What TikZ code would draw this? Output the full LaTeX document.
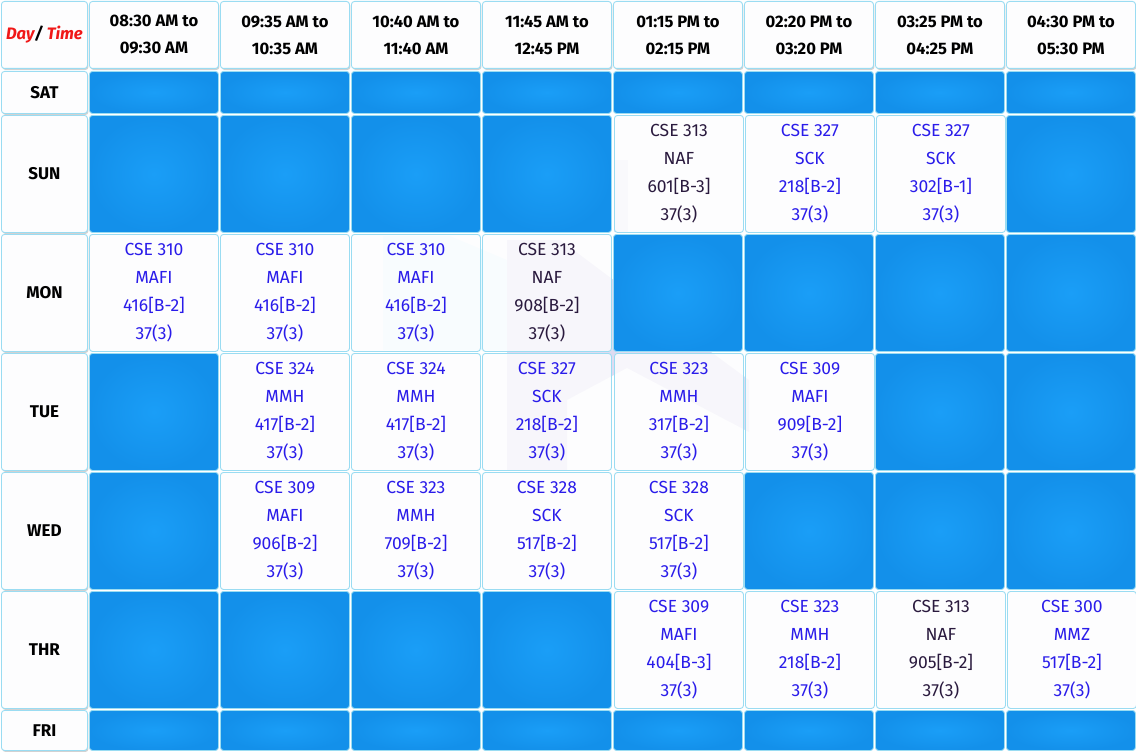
\documentclass[tikz,border=0pt]{standalone}
\usepackage{fontspec}
\setmainfont{Fira Sans}
\usetikzlibrary{shadows}
\definecolor{cellblueA}{HTML}{1A9EF7}
\definecolor{cellblueB}{HTML}{1390EA}
\definecolor{cellline}{HTML}{9ADCF2}
\definecolor{cellwhite}{HTML}{FDFDFE}
\definecolor{tblue}{HTML}{2A1CEA}
\definecolor{tdark}{HTML}{2A1A3E}
\definecolor{dayred}{HTML}{F01818}
\definecolor{wmlav}{HTML}{B8B0E0}
\definecolor{wmcyan}{HTML}{B8F0FF}
\tikzset{
  base/.style={rounded corners=3pt, draw=cellline, line width=0.9pt, inner sep=0pt, anchor=north west},
  bluecell/.style={base, inner color=cellblueA, outer color=cellblueB, minimum width=129pt},
  course/.style={base, fill=cellwhite, fill opacity=0.82, text opacity=1, minimum width=129pt,
     minimum height=117pt, align=center, font=\fontsize{17.5}{28}\selectfont},
  cb/.style={course, text=tblue},
  cd/.style={course, text=tdark},
  headcell/.style={base, fill=cellwhite, minimum height=67pt,
     drop shadow={shadow xshift=1pt, shadow yshift=-1.5pt, fill=black!35, opacity=0.5},
     font=\bfseries\fontsize{16.6}{27}\selectfont, align=center},
  daycell/.style={base, fill=cellwhite, minimum width=86pt,
     drop shadow={shadow xshift=1pt, shadow yshift=-1.5pt, fill=black!35, opacity=0.5},
     font=\bfseries\fontsize{17}{20}\selectfont}
}
\begin{document}
\begin{tikzpicture}[x=1pt, y=-1pt]
\useasboundingbox (0,0) rectangle (1136,752);
\fill[white] (0,0) rectangle (1136,752);
% faint watermark behind the cells
\fill[wmcyan, opacity=0.35] (383,236) -- (450,236) -- (507,260) -- (507,350) -- (383,350) -- cycle;
\fill[wmlav, opacity=0.45] (507,240) -- (560,240) -- (627,290) -- (749,380) -- (749,432)
   -- (627,368) -- (567,400) -- (567,470) -- (507,470) -- cycle;
\fill[wmlav, opacity=0.3] (614,160) -- (628,160) -- (628,232) -- (614,232) -- cycle;
% header row
\node[headcell, minimum width=86pt] (h0) at (1,1)
  {\itshape{\color{dayred}Day}/ {\color{dayred}Time}};
\foreach \c/\t/\u in {1/08:30 AM to/09:30 AM, 2/09:35 AM to/10:35 AM, 3/10:40 AM to/11:40 AM,
   4/11:45 AM to/12:45 PM, 5/01:15 PM to/02:15 PM, 6/02:20 PM to/03:20 PM,
   7/03:25 PM to/04:25 PM, 8/04:30 PM to/05:30 PM} {
  \pgfmathsetmacro\x{89+131*(\c-1)}
  \node[headcell, minimum width=129pt] (h\c) at (\x,1) {\t\\\u};
}
% day column
\foreach \r/\top/\h/\d in {sat/71/42/SAT, sun/115/117/SUN, mon/234/117/MON, tue/353/117/TUE,
   wed/472/117/WED, thr/591/117/THR, fri/710/40/FRI} {
  \node[daycell, minimum height=\h] (day-\r) at (1,\top) {\d};
}
% free (blue) slots
\foreach \r/\top/\h/\cols in {sat/71/42/{1,2,3,4,5,6,7,8}, sun/115/117/{1,2,3,4,8},
   mon/234/117/{5,6,7,8}, tue/353/117/{1,7,8}, wed/472/117/{1,6,7,8},
   thr/591/117/{1,2,3,4}, fri/710/40/{1,2,3,4,5,6,7,8}} {
  \foreach \c in \cols {
    \pgfmathsetmacro\x{89+131*(\c-1)}
    \node[bluecell, minimum height=\h] (\r-\c) at (\x,\top) {};
  }
}
% SUN
\node[cd] (sun-5) at (614,115) {CSE 313\\NAF\\601[B-3]\\37(3)};
\node[cb] (sun-6) at (745,115) {CSE 327\\SCK\\218[B-2]\\37(3)};
\node[cb] (sun-7) at (876,115) {CSE 327\\SCK\\302[B-1]\\37(3)};
% MON
\node[cb] (mon-1) at (89,234) {CSE 310\\MAFI\\416[B-2]\\37(3)};
\node[cb] (mon-2) at (220,234) {CSE 310\\MAFI\\416[B-2]\\37(3)};
\node[cb] (mon-3) at (351,234) {CSE 310\\MAFI\\416[B-2]\\37(3)};
\node[cd] (mon-4) at (482,234) {CSE 313\\NAF\\908[B-2]\\37(3)};
% TUE
\node[cb] (tue-2) at (220,353) {CSE 324\\MMH\\417[B-2]\\37(3)};
\node[cb] (tue-3) at (351,353) {CSE 324\\MMH\\417[B-2]\\37(3)};
\node[cb] (tue-4) at (482,353) {CSE 327\\SCK\\218[B-2]\\37(3)};
\node[cb] (tue-5) at (614,353) {CSE 323\\MMH\\317[B-2]\\37(3)};
\node[cb] (tue-6) at (745,353) {CSE 309\\MAFI\\909[B-2]\\37(3)};
% WED
\node[cb] (wed-2) at (220,472) {CSE 309\\MAFI\\906[B-2]\\37(3)};
\node[cb] (wed-3) at (351,472) {CSE 323\\MMH\\709[B-2]\\37(3)};
\node[cb] (wed-4) at (482,472) {CSE 328\\SCK\\517[B-2]\\37(3)};
\node[cb] (wed-5) at (614,472) {CSE 328\\SCK\\517[B-2]\\37(3)};
% THR
\node[cb] (thr-5) at (614,591) {CSE 309\\MAFI\\404[B-3]\\37(3)};
\node[cb] (thr-6) at (745,591) {CSE 323\\MMH\\218[B-2]\\37(3)};
\node[cd] (thr-7) at (876,591) {CSE 313\\NAF\\905[B-2]\\37(3)};
\node[cb] (thr-8) at (1007,591) {CSE 300\\MMZ\\517[B-2]\\37(3)};
\end{tikzpicture}
\end{document}
